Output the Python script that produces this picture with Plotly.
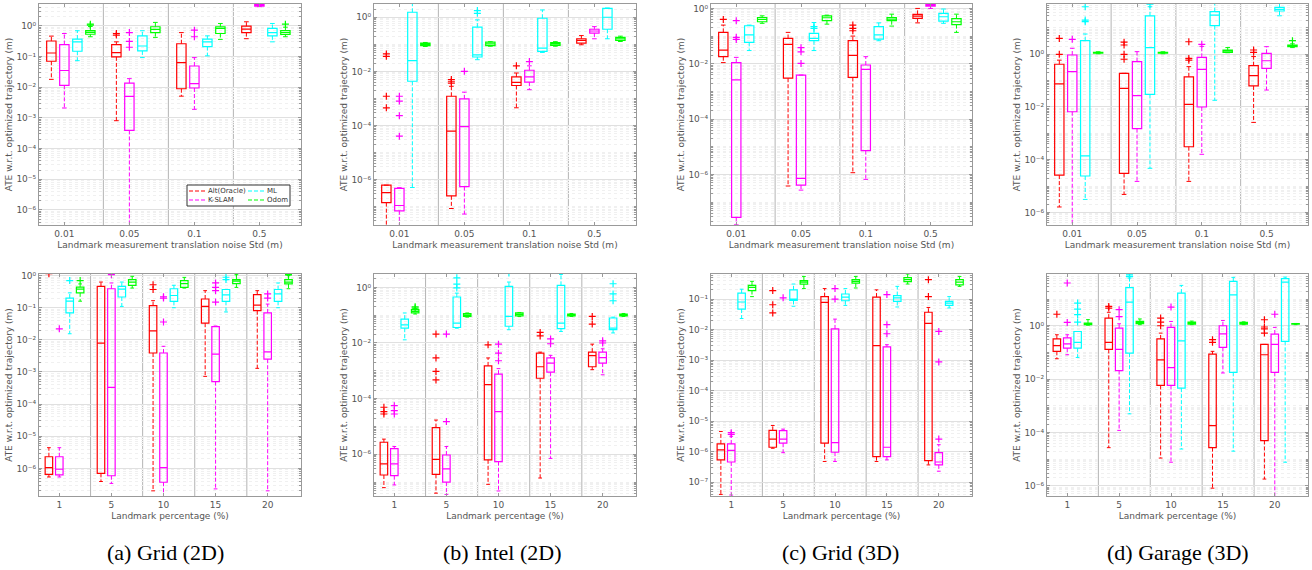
import math
import plotly.graph_objects as go

# ---------------- data ----------------
SERIES = ["Alt(Oracle)", "K-SLAM", "ML", "Odom"]
COLORS = ["#ff0000", "#ff00ff", "#00ffff", "#00ff00"]
NOISE_STD = ["0.01", "0.05", "0.1", "0.5"]
LANDMARK_PCT = ["1", "5", "10", "15", "20"]
NOISE_TITLE = "Landmark measurement translation noise Std (m)"
PCT_TITLE = "Landmark percentage (%)"
Y_TITLE = "ATE w.r.t. optimized trajectory (m)"
CAPTIONS = ["(a) Grid (2D)", "(b) Intel (2D)", "(c) Grid (3D)", "(d) Garage (3D)"]

# each box: [lower whisker, q1, median, q3, upper whisker]
GRID2D_NOISE_BOX = {
    "Alt(Oracle)": [[0.018, 0.07, 0.13, 0.32, 0.46], [8.1e-4, 0.097, 0.134, 0.245, 0.30],
                    [0.0051, 0.0089, 0.063, 0.26, 0.60], [0.38, 0.60, 0.78, 0.97, 1.35]],
    "K-SLAM": [[0.0021, 0.0115, 0.035, 0.245, 0.56], [1e-7, 3.9e-4, 0.005, 0.0136, 0.019],
               [0.0019, 0.0094, 0.013, 0.049, 0.092], [4.2, 4.4, 4.8, 5.3, 6.0]],
    "ML": [[0.073, 0.148, 0.30, 0.37, 0.69], [0.092, 0.152, 0.22, 0.47, 0.69],
           [0.105, 0.21, 0.30, 0.37, 0.47], [0.30, 0.47, 0.60, 0.82, 1.19]],
    "Odom": [[0.44, 0.53, 0.61, 0.70, 0.95], [0.42, 0.60, 0.76, 0.93, 1.29],
             [0.36, 0.56, 0.82, 0.93, 1.19], [0.44, 0.52, 0.60, 0.70, 0.90]],
}
GRID2D_NOISE_OUT = {
    "Alt(Oracle)": [[], [0.56, 0.50], [], []],
    "K-SLAM": [[], [0.60, 0.31, 0.20], [0.72, 0.44], []],
    "ML": [[], [], [], []],
    "Odom": [[1.13, 1.05], [], [], [1.13]],
}

GRID2D_PCT_BOX = {
    "Alt(Oracle)": [[5.4e-7, 6.5e-7, 1.05e-6, 2.3e-6, 4.4e-6], [3.9e-7, 7.0e-7, 0.0079, 0.46, 0.63],
                    [2e-7, 0.0039, 0.019, 0.116, 0.166], [7.3e-4, 0.033, 0.11, 0.187, 0.34],
                    [0.0013, 0.081, 0.12, 0.255, 0.34]],
    "K-SLAM": [[5.4e-7, 6.3e-7, 9.4e-7, 2.3e-6, 4.4e-6], [3.4e-7, 5.9e-7, 3.3e-4, 0.39, 0.59],
               [1.2e-7, 3.7e-7, 1.05e-6, 0.0039, 0.0063], [2.3e-7, 5e-4, 0.0036, 0.026, 0.027],
               [2e-7, 0.0025, 0.0042, 0.069, 0.13]],
    "ML": [[0.0155, 0.069, 0.16, 0.20, 0.29], [0.11, 0.216, 0.38, 0.46, 0.63],
           [0.10, 0.158, 0.24, 0.39, 0.50], [0.074, 0.158, 0.25, 0.37, 0.37],
           [0.10, 0.158, 0.27, 0.37, 0.59]],
    "Odom": [[0.16, 0.29, 0.38, 0.44, 0.55], [0.41, 0.50, 0.63, 0.75, 0.95],
             [0.41, 0.43, 0.56, 0.70, 0.88], [0.43, 0.56, 0.67, 0.75, 1.07],
             [0.39, 0.55, 0.63, 0.75, 1.0]],
}
GRID2D_PCT_OUT = {
    "Alt(Oracle)": [[1.15], [], [0.52, 0.37], [], []],
    "K-SLAM": [[0.022], [1.07], [0.22, 0.20, 0.036], [0.59, 0.43, 0.34, 0.15], [0.27, 0.20]],
    "ML": [[0.70], [], [], [0.89, 0.75], []],
    "Odom": [[0.70], [], [], [1.2], [1.1, 1.05]],
}

INTEL_NOISE_BOX = {
    "Alt(Oracle)": [[1.5e-8, 1.4e-7, 3.3e-7, 6.2e-7, 6.2e-7], [8.5e-8, 2.5e-7, 6.2e-5, 0.0012, 0.0028],
                    [4.5e-4, 0.003, 0.0039, 0.0062, 0.0087], [0.096, 0.11, 0.138, 0.16, 0.21]],
    "K-SLAM": [[1.5e-8, 7e-8, 1.1e-7, 4.7e-7, 5e-7], [5.3e-8, 5.5e-7, 9e-5, 9.6e-4, 0.0017],
               [0.0021, 0.004, 0.0062, 0.011, 0.016], [0.16, 0.26, 0.31, 0.36, 0.45]],
    "ML": [[5.1e-7, 0.0043, 0.025, 1.53, 3.5], [0.027, 0.034, 0.041, 0.43, 0.8],
           [0.05, 0.055, 0.072, 0.92, 1.86], [0.16, 0.36, 1.0, 2.14, 2.2]],
    "Odom": [[0.083, 0.09, 0.1, 0.11, 0.117], [0.085, 0.09, 0.104, 0.12, 0.125],
             [0.085, 0.092, 0.104, 0.115, 0.125], [0.127, 0.138, 0.16, 0.18, 0.2]],
}
INTEL_NOISE_OUT = {
    "Alt(Oracle)": [[0.044, 0.036, 0.0012, 4.5e-4], [0.005, 0.0043, 0.0037], [0.016], []],
    "K-SLAM": [[0.0012, 8e-4, 2.3e-4, 4e-5], [0.01], [0.023], []],
    "ML": [[], [1.76, 1.4], [], []],
    "Odom": [[], [], [], []],
}

INTEL_PCT_BOX = {
    "Alt(Oracle)": [[6.3e-8, 1.8e-7, 4.5e-7, 2.7e-6, 3.5e-6], [4e-8, 1.9e-7, 6.6e-7, 9.1e-6, 1.7e-5],
                    [8.3e-8, 6.3e-7, 3.2e-4, 0.0015, 0.0029], [1.4e-7, 5.4e-4, 0.0014, 0.0043, 0.0047],
                    [0.0011, 0.0014, 0.0035, 0.0047, 0.0091]],
    "K-SLAM": [[7.9e-8, 1.7e-7, 4.5e-7, 1.6e-6, 1.9e-6], [3.6e-8, 1e-7, 3e-7, 9.4e-7, 1.9e-6],
               [4.8e-8, 5.4e-7, 3.4e-5, 7.6e-4, 0.0012], [7.1e-7, 8.9e-4, 0.0019, 0.0029, 0.0036],
               [7.2e-4, 0.0019, 0.003, 0.0047, 0.0062]],
    "ML": [[0.013, 0.034, 0.045, 0.072, 0.12], [0.034, 0.036, 0.052, 0.45, 0.62],
           [0.03, 0.04, 0.09, 1.09, 1.55], [0.026, 0.033, 0.052, 1.18, 2.9],
           [0.023, 0.03, 0.034, 0.079, 0.085]],
    "Odom": [[0.11, 0.12, 0.137, 0.157, 0.17], [0.085, 0.09, 0.1, 0.113, 0.12],
             [0.09, 0.095, 0.107, 0.12, 0.125], [0.09, 0.095, 0.1, 0.11, 0.115],
             [0.09, 0.095, 0.1, 0.11, 0.115]],
}
INTEL_PCT_OUT = {
    "Alt(Oracle)": [[4.9e-5, 3.4e-5, 2.8e-5], [0.021, 0.0029, 9.5e-4, 4.7e-4], [0.0086],
                    [0.024, 0.018], [0.09, 0.048]],
    "K-SLAM": [[5.6e-5, 3.7e-5, 2.8e-5], [0.021, 1.5e-5], [0.0091, 0.0043, 0.0023],
               [0.014, 0.0094], [0.012, 0.01]],
    "ML": [[], [2.2, 1.3, 0.95], [3.3], [], [1.35, 0.58, 0.33]],
    "Odom": [[0.2, 0.18], [], [], [], []],
}

GRID3D_NOISE_BOX = {
    "Alt(Oracle)": [[0.011, 0.018, 0.031, 0.136, 0.25], [3.8e-7, 0.003, 0.05, 0.082, 0.136],
                    [1.15e-6, 0.0032, 0.02, 0.068, 0.1], [0.3, 0.44, 0.53, 0.61, 1.0]],
    "K-SLAM": [[1.5e-8, 2.8e-8, 0.0026, 0.011, 0.017], [2.7e-7, 4.1e-7, 7.2e-7, 0.0039, 0.0039],
               [6.6e-7, 7.2e-6, 0.0063, 0.009, 0.018], [1.0, 1.2, 1.32, 1.42, 1.6]],
    "ML": [[0.03, 0.059, 0.11, 0.236, 0.25], [0.03, 0.068, 0.082, 0.125, 0.31],
           [0.068, 0.078, 0.11, 0.22, 0.3], [0.29, 0.35, 0.5, 0.66, 0.95]],
    "Odom": [[0.29, 0.33, 0.4, 0.47, 0.54], [0.27, 0.36, 0.46, 0.54, 0.57],
             [0.23, 0.36, 0.41, 0.47, 0.62], [0.136, 0.26, 0.33, 0.43, 0.62]],
}
GRID3D_NOISE_OUT = {
    "Alt(Oracle)": [[0.4], [], [0.25, 0.19, 0.156], []],
    "K-SLAM": [[0.36, 0.09, 0.076], [0.038, 0.027, 0.0103], [], []],
    "ML": [[], [0.22, 0.19], [], []],
    "Odom": [[], [], [], []],
}

GRID3D_PCT_BOX = {
    "Alt(Oracle)": [[4e-8, 5.4e-7, 1.15e-6, 1.8e-6, 4.6e-6], [1.3e-6, 1.4e-6, 2.6e-6, 5e-6, 7.2e-6],
                    [4.8e-7, 1.9e-6, 0.078, 0.12, 0.22], [4.8e-7, 6.9e-7, 0.003, 0.116, 0.2],
                    [3.7e-7, 5.1e-7, 0.016, 0.037, 0.053]],
    "K-SLAM": [[3.8e-8, 4.6e-7, 1.1e-6, 1.8e-6, 3.2e-6], [9.3e-7, 1.9e-6, 2.6e-6, 4.9e-6, 5.5e-6],
               [4.8e-7, 9.6e-7, 2e-6, 0.0105, 0.022], [5.4e-7, 6.9e-7, 1.4e-6, 0.0027, 0.0032],
               [2.3e-7, 3.7e-7, 4.6e-7, 9.4e-7, 1.7e-6]],
    "ML": [[0.023, 0.047, 0.08, 0.157, 0.21], [0.058, 0.09, 0.1, 0.2, 0.31],
           [0.062, 0.088, 0.116, 0.146, 0.22], [0.055, 0.084, 0.11, 0.13, 0.26],
           [0.051, 0.062, 0.074, 0.084, 0.12]],
    "Odom": [[0.12, 0.19, 0.24, 0.28, 0.38], [0.22, 0.31, 0.36, 0.4, 0.55],
             [0.23, 0.33, 0.38, 0.43, 0.55], [0.31, 0.37, 0.43, 0.5, 0.66],
             [0.26, 0.29, 0.36, 0.43, 0.55]],
}
GRID3D_PCT_OUT = {
    "Alt(Oracle)": [[], [0.19, 0.065, 0.035], [], [], [0.43, 0.12]],
    "K-SLAM": [[4.2e-6, 3.7e-6], [0.11], [0.22, 0.1], [0.14, 0.0145, 0.0073], [0.0087, 8.7e-4, 2.6e-6]],
    "ML": [[], [], [], [], []],
    "Odom": [[], [], [], [], []],
}

GARAGE_NOISE_BOX = {
    "Alt(Oracle)": [[1.6e-6, 2.6e-5, 0.075, 0.42, 0.6], [4.8e-6, 3e-5, 0.051, 0.19, 0.19],
                    [1.5e-5, 3.1e-4, 0.0126, 0.14, 0.34], [0.0026, 0.063, 0.155, 0.37, 0.82]],
    "K-SLAM": [[3e-7, 0.0066, 0.22, 0.94, 1.7], [1.5e-5, 0.0015, 0.027, 0.53, 1.26],
               [1.6e-4, 0.01, 0.27, 0.77, 2.0], [0.044, 0.29, 0.57, 1.09, 1.95]],
    "ML": [[3.1e-6, 2.4e-5, 1.4e-4, 3.3, 5.9], [4.7e-5, 0.03, 1.8, 29, 64],
           [0.018, 12.3, 31, 42, 90], [29, 44, 51, 61, 90]],
    "Odom": [[1.05, 1.1, 1.15, 1.2, 1.25], [1.05, 1.1, 1.15, 1.2, 1.25],
             [1.15, 1.19, 1.34, 1.46, 1.8], [1.8, 1.95, 2.1, 2.26, 2.5]],
}
GARAGE_NOISE_OUT = {
    "Alt(Oracle)": [[4.0, 1.0], [2.9, 2.26, 1.0, 0.65], [3.0, 0.7, 0.6], [1.46, 1.19]],
    "K-SLAM": [[3.7], [], [2.4], []],
    "ML": [[64, 20, 17.4], [80], [], []],
    "Odom": [[], [], [], [3.3]],
}

GARAGE_PCT_BOX = {
    "Alt(Oracle)": [[0.058, 0.11, 0.18, 0.32, 0.46], [2.7e-5, 0.13, 0.24, 1.94, 3.2],
                    [1.1e-5, 0.0058, 0.053, 0.32, 0.53], [8.2e-7, 2.7e-5, 1.8e-4, 0.087, 0.11],
                    [1.8e-6, 5e-5, 0.082, 0.2, 0.2]],
    "K-SLAM": [[0.082, 0.145, 0.21, 0.35, 0.46], [1.2e-4, 0.021, 0.13, 0.82, 1.19],
               [7.7e-6, 0.0058, 0.027, 0.87, 1.45], [0.017, 0.155, 0.5, 1.0, 1.58],
               [3e-7, 0.018, 0.2, 0.49, 0.87]],
    "ML": [[0.065, 0.145, 0.24, 0.61, 0.61], [5e-4, 0.094, 7.7, 27, 61],
           [2.4e-5, 0.0046, 0.27, 16.8, 32.6], [2e-5, 0.018, 14.5, 46, 65],
           [7.7e-6, 0.26, 43, 58, 67]],
    "Odom": [[1.05, 1.1, 1.2, 1.26, 1.7], [1.1, 1.19, 1.3, 1.45, 1.8],
             [1.1, 1.15, 1.25, 1.37, 1.5], [1.1, 1.15, 1.25, 1.33, 1.4],
             [1.1, 1.15, 1.18, 1.2, 1.22]],
}
GARAGE_PCT_OUT = {
    "Alt(Oracle)": [[2.7], [5.3, 4.6], [1.94, 1.37, 1.0], [0.3, 0.24], [1.68, 0.9, 0.77, 0.53]],
    "K-SLAM": [[40, 1.33], [4.0, 2.2], [5.0], [], [2.7]],
    "ML": [[7.1, 4.2, 2.6, 1.37], [81, 70], [], [], []],
    "Odom": [[], [], [], [], []],
}

# ---------------- layout helpers ----------------
W, H = 1312, 570
COL_PX = [(39, 301), (374, 636), (711, 972), (1047, 1308)]
ROW_PX = [(4, 225), (274, 496)]
CAPTION_X = [165, 502, 840, 1178]
CAPTION_Y = 552
# legend box (px) inside panel (a), 2 columns x 2 rows
LEG_BOX = (187, 185, 290, 206)
LEG_COLS = [188, 247]
LEG_ROWS = [191, 200]
LEG_SWATCH = 17

# (box stats, outliers, categories, x title, log10 y-range, label step in decades)
PANELS = [
    (GRID2D_NOISE_BOX, GRID2D_NOISE_OUT, NOISE_STD, NOISE_TITLE, (-6.49, 0.71), 1),
    (INTEL_NOISE_BOX, INTEL_NOISE_OUT, NOISE_STD, NOISE_TITLE, (-7.68, 0.49), 2),
    (GRID3D_NOISE_BOX, GRID3D_NOISE_OUT, NOISE_STD, NOISE_TITLE, (-7.83, 0.16), 2),
    (GARAGE_NOISE_BOX, GARAGE_NOISE_OUT, NOISE_STD, NOISE_TITLE, (-6.48, 1.91), 2),
    (GRID2D_PCT_BOX, GRID2D_PCT_OUT, LANDMARK_PCT, PCT_TITLE, (-6.86, 0.05), 1),
    (INTEL_PCT_BOX, INTEL_PCT_OUT, LANDMARK_PCT, PCT_TITLE, (-7.5, 0.48), 2),
    (GRID3D_PCT_BOX, GRID3D_PCT_OUT, LANDMARK_PCT, PCT_TITLE, (-7.45, -0.18), 1),
    (GARAGE_PCT_BOX, GARAGE_PCT_OUT, LANDMARK_PCT, PCT_TITLE, (-6.38, 1.94), 2),
]

GROUP_STEP = 5       # 4 boxes + 1 gap per group
BOX_W = 0.72
CAP_HALF = 0.18
TEXT_COLOR = "#555555"
AXIS_COLOR = "#9a9a9a"
FONT = "DejaVu Sans"
DASH = "4px,2px"
SUP = str.maketrans("-0123456789", "\u207b\u2070\u00b9\u00b2\u00b3\u2074\u2075\u2076\u2077\u2078\u2079")


def pow_label(e):
    return "10" + str(e).translate(SUP)


def px(x):
    return x / W


def py(y):
    return 1 - y / H


fig = go.Figure()
shapes = []
annotations = []
layout_axes = {}

for i, (box, outs, cats, xtitle, (ylo, yhi), step) in enumerate(PANELS):
    n = i + 1
    xa = "x" if n == 1 else f"x{n}"
    ya = "y" if n == 1 else f"y{n}"
    row, col = divmod(i, 4)
    G = len(cats)

    for s, name in enumerate(SERIES):
        color = COLORS[s]
        stats = box[name]
        pos = [GROUP_STEP * g + s for g in range(G)]
        lo = [v[0] for v in stats]
        q1 = [v[1] for v in stats]
        md = [v[2] for v in stats]
        q3 = [v[3] for v in stats]
        hi = [v[4] for v in stats]

        wx, wy, cx, cy = [], [], [], []
        for p, a, b, c, d in zip(pos, lo, q1, q3, hi):
            wx += [p, p, None, p, p, None]
            wy += [c, d, None, b, a, None]
            cx += [p - CAP_HALF, p + CAP_HALF, None, p - CAP_HALF, p + CAP_HALF, None]
            cy += [d, d, None, a, a, None]
        # dashed whiskers
        fig.add_trace(go.Scatter(
            x=wx, y=wy, mode="lines", xaxis=xa, yaxis=ya,
            line=dict(color=color, width=1, dash=DASH),
            name=name, showlegend=False, hoverinfo="skip"))
        # whisker caps
        fig.add_trace(go.Scatter(
            x=cx, y=cy, mode="lines", xaxis=xa, yaxis=ya,
            line=dict(color=color, width=1), showlegend=False, hoverinfo="skip"))
        # boxes + medians
        fig.add_trace(go.Box(
            x=pos, q1=q1, median=md, q3=q3, lowerfence=q1, upperfence=q3,
            width=BOX_W, xaxis=xa, yaxis=ya, boxpoints=False,
            line=dict(color=color, width=1.2), fillcolor="rgba(0,0,0,0)",
            whiskerwidth=0, showlegend=False, name=name, hoverinfo="skip"))
        # outliers
        ox, oy = [], []
        for p, ol in zip(pos, outs[name]):
            ox += [p] * len(ol)
            oy += ol
        if ox:
            fig.add_trace(go.Scatter(
                x=ox, y=oy, mode="markers", xaxis=xa, yaxis=ya,
                marker=dict(symbol="cross-thin", size=5, color=color,
                            line=dict(color=color, width=1.2)),
                showlegend=False, hoverinfo="skip"))

    # group separators
    for g in range(G - 1):
        sx = GROUP_STEP * g + 4
        shapes.append(dict(type="line", xref=xa, yref=f"{ya} domain", x0=sx, x1=sx,
                           y0=0, y1=1, layer="below",
                           line=dict(color="#b4b4b4", width=1)))

    major = [e for e in range(math.ceil(ylo), math.floor(yhi) + 1) if e % step == 0]
    minor = []
    for k in range(math.floor(ylo), math.ceil(yhi) + 1):
        for m in range(1, 10):
            if m == 1 and k in major:
                continue
            v = m * 10.0 ** k
            if ylo <= math.log10(v) <= yhi:
                minor.append(v)

    x0, x1 = COL_PX[col]
    y0, y1 = ROW_PX[row]
    xkey = "xaxis" if n == 1 else f"xaxis{n}"
    ykey = "yaxis" if n == 1 else f"yaxis{n}"
    layout_axes[xkey] = dict(
        domain=[px(x0), px(x1)], anchor=ya,
        range=[-0.95, GROUP_STEP * G - 0.8],
        tickmode="array", tickvals=[GROUP_STEP * g + 1 for g in range(G)], ticktext=cats,
        ticks="inside", ticklen=3, tickcolor=AXIS_COLOR,
        showline=True, linecolor=AXIS_COLOR, linewidth=1, mirror="ticks",
        showgrid=False, zeroline=False, automargin=False,
        tickfont=dict(family=FONT, size=9, color=TEXT_COLOR),
        title=dict(text=xtitle, standoff=3, font=dict(family=FONT, size=9, color=TEXT_COLOR)),
    )
    layout_axes[ykey] = dict(
        domain=[py(y1), py(y0)], anchor=xa, type="log",
        range=[ylo, yhi],
        tickmode="array", tickvals=[10.0 ** e for e in major],
        ticktext=[pow_label(e) for e in major],
        ticks="inside", ticklen=3, tickcolor=AXIS_COLOR,
        showline=True, linecolor=AXIS_COLOR, linewidth=1, mirror="ticks",
        showgrid=True, gridcolor="#e0e0e0", gridwidth=1, zeroline=False, automargin=False,
        minor=dict(tickmode="array", tickvals=minor, showgrid=True, gridcolor="#f0f0f0",
                   griddash="dot", gridwidth=1, ticks="inside", ticklen=2,
                   tickcolor=AXIS_COLOR),
        tickfont=dict(family=FONT, size=9, color=TEXT_COLOR),
        title=dict(text=Y_TITLE, standoff=2, font=dict(family=FONT, size=9, color=TEXT_COLOR)),
    )

# legend (MATLAB style: 2 columns, dashed samples) inside panel (a)
bx0, by0, bx1, by1 = LEG_BOX
shapes.append(dict(type="rect", xref="paper", yref="paper", x0=px(bx0), x1=px(bx1),
                   y0=py(by1), y1=py(by0), fillcolor="white",
                   line=dict(color="#333333", width=1), layer="above"))
legend_order = [(0, 0, 0), (1, 0, 1), (2, 1, 0), (3, 1, 1)]  # series, column, row
for s, c, r in legend_order:
    lx = LEG_COLS[c]
    ly = LEG_ROWS[r]
    shapes.append(dict(type="line", xref="paper", yref="paper",
                       x0=px(lx + 1), x1=px(lx + LEG_SWATCH), y0=py(ly), y1=py(ly),
                       line=dict(color=COLORS[s], width=1, dash=DASH), layer="above"))
    annotations.append(dict(text=SERIES[s], x=px(lx + LEG_SWATCH + 1), y=py(ly),
                            xref="paper", yref="paper", xanchor="left", yanchor="middle",
                            showarrow=False,
                            font=dict(family=FONT, size=7, color="#333333")))

for cx_, txt in zip(CAPTION_X, CAPTIONS):
    annotations.append(dict(text=txt, x=px(cx_), y=py(CAPTION_Y), xref="paper", yref="paper",
                            xanchor="center", yanchor="middle", showarrow=False,
                            font=dict(family="Liberation Serif", size=22, color="black")))

fig.update_layout(
    template="none",
    width=W, height=H,
    margin=dict(l=0, r=0, t=0, b=0),
    paper_bgcolor="white", plot_bgcolor="white",
    boxmode="overlay",
    shapes=shapes,
    annotations=annotations,
    showlegend=False,
    **layout_axes,
)

fig.write_html("out.html", config={"displayModeBar": False},
               post_script="document.body.style.margin='0';")
